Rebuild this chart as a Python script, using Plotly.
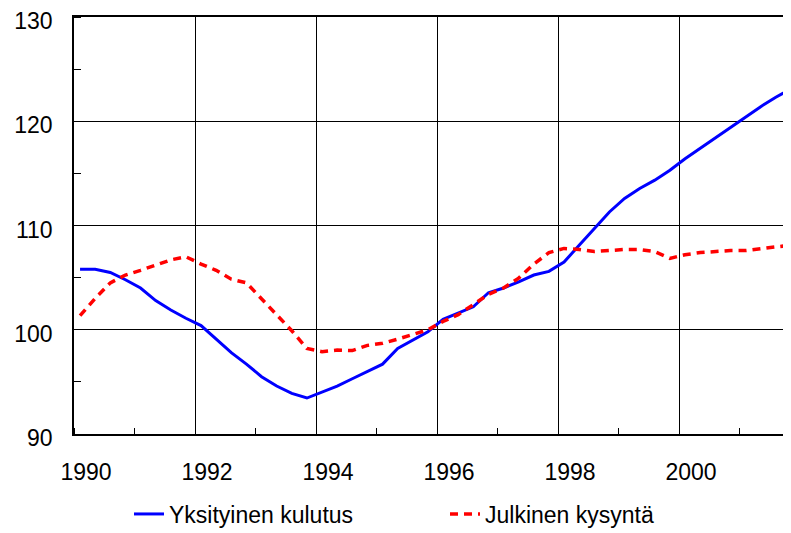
import plotly.graph_objects as go

# Quarterly data 1990Q1 .. 2001Q4
years = [y for y in range(1990, 2002) for q in range(4)]
quarters = [q for y in range(1990, 2002) for q in range(1, 5)]

yksityinen = [
    105.8, 105.8, 105.5, 104.8, 104.0, 102.8, 101.9, 101.1,
    100.4, 99.1, 97.8, 96.7, 95.5, 94.6, 93.9, 93.45,
    94.0, 94.6, 95.3, 96.0, 96.7, 98.2, 99.0, 99.8,
    101.0, 101.6, 102.2, 103.55, 104.0, 104.6, 105.25, 105.6,
    106.5, 108.1, 109.7, 111.3, 112.6, 113.55, 114.35, 115.3,
    116.4, 117.4, 118.35, 119.4, 120.4, 121.4, 122.3, 123.1,
]
julkinen = [
    101.35, 103.0, 104.5, 105.25, 105.7, 106.2, 106.7, 107.0,
    106.3, 105.7, 104.85, 104.5, 103.0, 101.4, 99.9, 98.2,
    97.9, 98.05, 98.0, 98.5, 98.7, 99.1, 99.55, 100.0,
    100.8, 101.45, 102.4, 103.4, 104.0, 104.95, 106.3, 107.4,
    107.8, 107.7, 107.5, 107.6, 107.7, 107.7, 107.5, 106.85,
    107.2, 107.4, 107.5, 107.6, 107.6, 107.8, 107.95, 108.1,
]
x_tick_vals = [1990, 1992, 1994, 1996, 1998, 2000]
x_tick_text = ["1990", "1992", "1994", "1996", "1998", "2000"]
y_tick_vals = [90, 100, 110, 120, 130]
series_names = ["Yksityinen kulutus", "Julkinen kysyntä"]

x = [y + (q - 0.6) / 4 for y, q in zip(years, quarters)]

FONT = "Liberation Sans, Arial, sans-serif"
FS = 23

fig = go.Figure()
fig.add_trace(go.Scatter(x=x, y=yksityinen, mode="lines", name=series_names[0],
                         line=dict(color="#0000FF", width=3), legend="legend"))
fig.add_trace(go.Scatter(x=x, y=julkinen, mode="lines", name=series_names[1],
                         line=dict(color="#FF0000", width=3.5, dash="8px,6px"), legend="legend2"))

leg_common = dict(orientation="h", yanchor="middle", y=-80 / 417, xanchor="left",
                  font=dict(family=FONT, size=23, color="black"),
                  bgcolor="rgba(0,0,0,0)", borderwidth=0)

# page body has an 8px default margin, so the figure is sized/offset to compensate
fig.update_layout(
    width=783, height=525,
    margin=dict(l=66, r=0, t=9, b=99, autoexpand=False),
    paper_bgcolor="white", plot_bgcolor="white",
    font=dict(family=FONT, size=FS, color="black"),
    showlegend=True,
    legend=dict(x=(129 - 74) / 717, **leg_common),
    legend2=dict(x=(445 - 74) / 717, **leg_common),
)
fig.update_xaxes(
    range=[1990, 1990 + 717 / 60.5], automargin=False,
    tickvals=x_tick_vals, ticktext=x_tick_text, ticklabeloverflow="allow",
    showgrid=True, gridcolor="black", gridwidth=1,
    showline=True, linecolor="black", linewidth=1.5, mirror=True,
    ticks="", ticklabelshift=12, ticklabelstandoff=17,
    minor=dict(ticks="inside", ticklen=6, dtick=1, tick0=1990, tickcolor="black", showgrid=False),
    zeroline=False,
)
fig.update_yaxes(
    range=[90, 130], tickvals=y_tick_vals, automargin=False, ticklabeloverflow="allow",
    showgrid=True, gridcolor="black", gridwidth=1,
    showline=True, linecolor="black", linewidth=1.5,
    ticks="", ticklabelstandoff=15, ticklabelshift=4,
    minor=dict(ticks="inside", ticklen=7, dtick=5, tick0=90, tickcolor="black", showgrid=False),
    zeroline=False,
)

fig.write_html("out.html")
